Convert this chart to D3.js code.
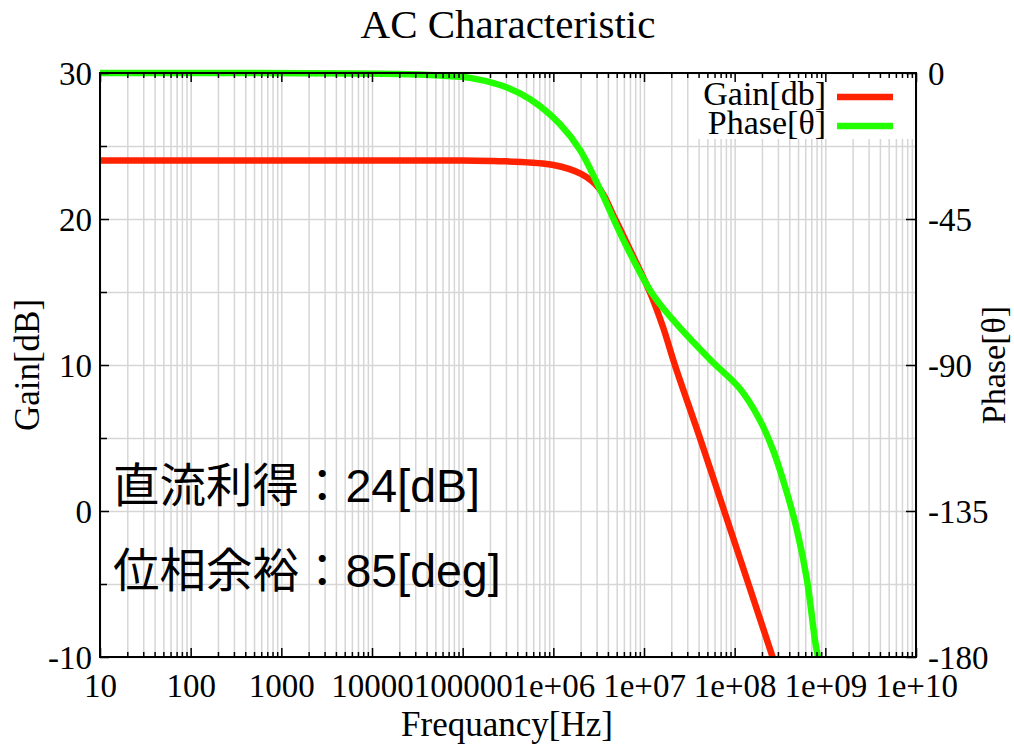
<!DOCTYPE html>
<html>
<head>
<meta charset="utf-8">
<script src="https://cdn.jsdelivr.net/npm/d3@7"></script>
<style>
  html, body { margin: 0; padding: 0; background: #fff; }
  svg { display: block; }
</style>
</head>
<body>
<svg id="chart" width="1014" height="744"></svg>
<script>
// ---- data ----
const freqTicks = [10, 100, 1000, 1e4, 1e5, 1e6, 1e7, 1e8, 1e9, 1e10];
const freqTickLabels = ["10", "100", "1000", "10000", "100000", "1e+06", "1e+07", "1e+08", "1e+09", "1e+10"];
const gainTicks = [30, 20, 10, 0, -10];
const gainTickLabels = ["30", "20", "10", "0", "-10"];
const gainMinorTicks = [25, 15, 5, -5];
const phaseTicks = [0, -45, -90, -135, -180];
const phaseTickLabels = ["0", "-45", "-90", "-135", "-180"];

const gainFreq = [10, 1e5, 3e5, 1e6, 2e6, 3.2e6, 4.8e6, 7e6, 1.16e7, 1.62e7, 2.19e7, 4.14e7, 7.67e7, 1.42e8, 2.62e8];
const gainDb   = [24, 24, 23.95, 23.7, 23.1, 22.1, 20, 17.9, 15, 12.6, 10, 5, 0, -5, -10];

const phaseFreq = [10, 2.0e4, 5.6e4, 1.2e5, 2.58e5, 4.29e5, 7.12e5, 1.18e6, 1.97e6, 3.27e6, 5.86e6, 1.22e7, 2.09e7, 5.35e7, 1.15e8, 1.9e8, 2.65e8, 3.78e8, 4.87e8, 6.28e8, 7.69e8, 8.3e8];
const phaseDeg  = [0, -0.3, -0.8, -1.5, -3.7, -6.3, -10.2, -15.7, -23.7, -35.8, -51.2, -67.8, -76.1, -88.3, -97.4, -107.0, -116.2, -129.5, -140.9, -156.3, -174.8, -180];

const titleText = "AC Characteristic";
const xLabel = "Frequancy[Hz]";
const yLabel = "Gain[dB]";
const y2Label = "Phase[θ]";
const seriesNames = ["Gain[db]", "Phase[θ]"];
const seriesColors = ["#ff2200", "#22ff00"];
const noteLines = ["直流利得：24[dB]", "位相余裕：85[deg]"];

// ---- layout ----
const L = 100, R = 916, T = 73, B = 657;
const svg = d3.select("#chart");
const fontFam = "'Liberation Serif', 'DejaVu Serif', serif";
const tickFont = 33;

const x = d3.scaleLog().domain([10, 1e10]).range([L, R]);
const yL = d3.scaleLinear().domain([-10, 30]).range([B, T]);
const yR = d3.scaleLinear().domain([-180, 0]).range([B, T]);

// minor x positions (2..9 per decade)
const minorX = [];
for (let e = 1; e < 10; e++) for (let m = 2; m <= 9; m++) minorX.push(m * Math.pow(10, e));
const allX = freqTicks.concat(minorX);

// ---- grid ----
const grid = svg.append("g");
grid.append("g").attr("transform", `translate(0,${B})`)
  .call(d3.axisBottom(x).tickValues(allX).tickSize(-(B - T)).tickFormat(""))
  .call(g => g.select(".domain").remove())
  .call(g => g.selectAll("line").attr("stroke", "#d6d6d6").attr("stroke-width", 1.5));
grid.append("g").attr("transform", `translate(${L},0)`)
  .call(d3.axisLeft(yL).tickValues(gainTicks.concat(gainMinorTicks)).tickSize(-(R - L)).tickFormat(""))
  .call(g => g.select(".domain").remove())
  .call(g => g.selectAll("line").attr("stroke", "#d6d6d6").attr("stroke-width", 1.5));

// ---- annotation ----
svg.append("g").selectAll("text").data(noteLines).join("text")
  .attr("x", 113)
  .attr("y", (d, i) => 502 + i * 85)
  .attr("font-family", "'Liberation Sans', 'Noto Sans CJK JP', sans-serif")
  .attr("font-size", 46.5)
  .attr("fill", "#000")
  .text(d => d);

// ---- legend background ----
svg.append("rect").attr("x", 698).attr("y", 76).attr("width", 215).attr("height", 63).attr("fill", "#fff");

// ---- curves ----
svg.append("clipPath").attr("id", "plotclip").append("rect")
  .attr("x", L).attr("y", T - 4).attr("width", R - L).attr("height", B - T + 4);

const gainPts = gainFreq.map((f, i) => [f, gainDb[i]]);
const phasePts = phaseFreq.map((f, i) => [f, phaseDeg[i]]);

const curves = svg.append("g").attr("clip-path", "url(#plotclip)");
curves.append("path").datum(gainPts)
  .attr("fill", "none").attr("stroke", seriesColors[0]).attr("stroke-width", 6.5)
  .attr("d", d3.line().x(d => x(d[0])).y(d => yL(d[1])).curve(d3.curveCatmullRom.alpha(0.5)));
curves.append("path").datum(phasePts)
  .attr("fill", "none").attr("stroke", seriesColors[1]).attr("stroke-width", 6.5)
  .attr("d", d3.line().x(d => x(d[0])).y(d => yR(d[1])).curve(d3.curveCatmullRom.alpha(0.5)));

// ---- axes (ticks inward) ----
function styleAxis(g) {
  g.select(".domain").remove();
  g.selectAll("line").attr("stroke", "#000").attr("stroke-width", 1.5);
}
function styleText(g) {
  g.selectAll("text").attr("font-family", fontFam).attr("font-size", tickFont).attr("fill", "#000");
}
// bottom major with labels
svg.append("g").attr("transform", `translate(0,${B})`)
  .call(d3.axisBottom(x).tickValues(freqTicks).tickSize(-9)
    .tickFormat((d, i) => freqTickLabels[i]))
  .call(styleAxis).call(styleText)
  .call(g => g.selectAll("text").attr("y", 40).attr("dy", 0));
// bottom minor
svg.append("g").attr("transform", `translate(0,${B})`)
  .call(d3.axisBottom(x).tickValues(minorX).tickSize(-5).tickFormat(""))
  .call(styleAxis);
// top mirror
svg.append("g").attr("transform", `translate(0,${T})`)
  .call(d3.axisTop(x).tickValues(freqTicks).tickSize(-9).tickFormat(""))
  .call(styleAxis);
svg.append("g").attr("transform", `translate(0,${T})`)
  .call(d3.axisTop(x).tickValues(minorX).tickSize(-5).tickFormat(""))
  .call(styleAxis);
// left
svg.append("g").attr("transform", `translate(${L},0)`)
  .call(d3.axisLeft(yL).tickValues(gainTicks).tickSize(-9).tickPadding(8)
    .tickFormat((d, i) => gainTickLabels[i]))
  .call(styleAxis).call(styleText)
  .call(g => g.selectAll("text").attr("dy", "0.34em"));
svg.append("g").attr("transform", `translate(${L},0)`)
  .call(d3.axisLeft(yL).tickValues(gainMinorTicks).tickSize(-7).tickFormat(""))
  .call(styleAxis);
// right
svg.append("g").attr("transform", `translate(${R},0)`)
  .call(d3.axisRight(yR).tickValues(phaseTicks).tickSize(-10).tickPadding(12)
    .tickFormat((d, i) => phaseTickLabels[i]))
  .call(styleAxis).call(styleText)
  .call(g => g.selectAll("text").attr("dy", "0.34em"));

// border
svg.append("rect").attr("x", L).attr("y", T).attr("width", R - L).attr("height", B - T)
  .attr("fill", "none").attr("stroke", "#000").attr("stroke-width", 2);

// ---- legend ----
const leg = svg.append("g");
seriesNames.forEach((name, i) => {
  const by = 105 + i * 29;
  leg.append("text").attr("x", 826).attr("y", by).attr("text-anchor", "end")
    .attr("font-family", fontFam).attr("font-size", 34).attr("fill", "#000").text(name);
  leg.append("line").attr("x1", 837).attr("x2", 893).attr("y1", by - 8).attr("y2", by - 8)
    .attr("stroke", seriesColors[i]).attr("stroke-width", 6.5);
});

// ---- titles ----
svg.append("text").attr("x", 508).attr("y", 38).attr("text-anchor", "middle")
  .attr("font-family", fontFam).attr("font-size", 41).attr("fill", "#000").text(titleText);
svg.append("text").attr("x", 507).attr("y", 736).attr("text-anchor", "middle")
  .attr("font-family", fontFam).attr("font-size", 35).attr("fill", "#000").text(xLabel);
svg.append("text").attr("transform", "translate(39,365) rotate(-90)").attr("text-anchor", "middle")
  .attr("font-family", fontFam).attr("font-size", 35).attr("fill", "#000").text(yLabel);
svg.append("text").attr("transform", "translate(1005,365) rotate(-90)").attr("text-anchor", "middle")
  .attr("font-family", fontFam).attr("font-size", 34).attr("fill", "#000").text(y2Label);
</script>
</body>
</html>
